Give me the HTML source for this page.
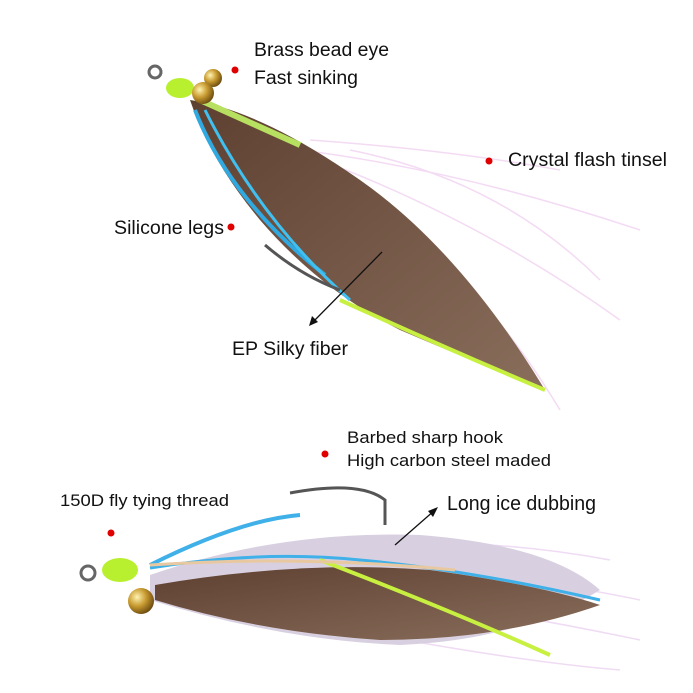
<!DOCTYPE html>
<html><head><meta charset="utf-8"><style>
html,body{margin:0;padding:0;background:#fff}
svg{display:block}
text{font-family:"Liberation Sans",sans-serif;fill:#111}
</style></head><body>
<svg width="693" height="693" viewBox="0 0 693 693" xmlns="http://www.w3.org/2000/svg">
<defs>
<linearGradient id="br" x1="0" y1="0" x2="1" y2="1"><stop offset="0" stop-color="#5e4030"/><stop offset="1" stop-color="#8a6e5c"/></linearGradient>
<radialGradient id="gold" cx="0.35" cy="0.35" r="0.7"><stop offset="0" stop-color="#fff3b0"/><stop offset="0.5" stop-color="#c89a30"/><stop offset="1" stop-color="#6a4a10"/></radialGradient>
</defs>
<g opacity="0.5" stroke="#e8b8e8" stroke-width="1.5" fill="none">
<path d="M300 150 Q460 170 640 230"/><path d="M320 160 Q480 220 620 320"/><path d="M330 170 Q470 260 560 410"/><path d="M350 150 Q500 180 600 280"/><path d="M310 140 Q450 150 560 170"/>
</g>
<path d="M190 100 Q260 110 360 180 Q460 250 545 390 Q470 360 400 330 Q320 290 260 220 Q210 160 190 100Z" fill="url(#br)"/>
<path d="M200 100 L300 145" stroke="#b8e060" stroke-width="6"/>
<path d="M195 110 Q230 200 325 275" stroke="#30a8e0" stroke-width="4" fill="none"/>
<path d="M205 110 Q260 220 350 300" stroke="#40c0f0" stroke-width="3" fill="none"/>
<path d="M340 300 Q450 350 545 390" stroke="#c8f040" stroke-width="4" fill="none"/>
<path d="M265 245 Q300 275 340 290" stroke="#555" stroke-width="3" fill="none"/>
<circle cx="155" cy="72" r="6" fill="none" stroke="#666" stroke-width="3"/>
<ellipse cx="180" cy="88" rx="14" ry="10" fill="#b8f030"/>
<circle cx="213" cy="78" r="9" fill="url(#gold)"/>
<circle cx="203" cy="93" r="11" fill="url(#gold)"/>
<g opacity="0.5" stroke="#e0b8e8" stroke-width="1.5" fill="none">
<path d="M200 560 Q450 560 640 600"/><path d="M200 570 Q450 600 640 640"/><path d="M250 550 Q450 530 610 560"/><path d="M300 620 Q500 660 620 670"/>
</g>
<path d="M150 575 Q280 530 420 535 Q550 545 600 590 Q520 640 400 645 Q280 640 150 600Z" fill="#d8d0e0"/>
<path d="M155 585 Q300 560 430 570 Q540 585 600 605 Q500 640 380 640 Q260 632 155 600Z" fill="url(#br)"/>
<path d="M150 565 Q240 520 300 515" stroke="#40b0e8" stroke-width="4" fill="none"/>
<path d="M150 568 Q260 550 360 560 Q470 570 600 600" stroke="#40b0e8" stroke-width="3" fill="none"/>
<path d="M320 560 Q450 610 550 655" stroke="#c8f040" stroke-width="4" fill="none"/>
<path d="M150 565 Q300 555 455 570" stroke="#e8c8a0" stroke-width="3" fill="none"/>
<path d="M290 493 Q360 480 385 500 L385 525" stroke="#555" stroke-width="3" fill="none"/>
<circle cx="88" cy="573" r="7" fill="none" stroke="#666" stroke-width="3"/>
<ellipse cx="120" cy="570" rx="18" ry="12" fill="#b8f030"/>
<circle cx="141" cy="601" r="13" fill="url(#gold)"/>
<g fill="#e00000"><circle cx="235" cy="70" r="3.5"/><circle cx="489" cy="161" r="3.5"/><circle cx="231" cy="227" r="3.5"/><circle cx="325" cy="454" r="3.5"/><circle cx="111" cy="533" r="3.5"/></g>
<text x="254" y="56" font-size="19" textLength="135" lengthAdjust="spacingAndGlyphs">Brass bead eye</text>
<text x="254" y="84" font-size="19" textLength="104" lengthAdjust="spacingAndGlyphs">Fast sinking</text>
<text x="508" y="166" font-size="19" textLength="159" lengthAdjust="spacingAndGlyphs">Crystal flash tinsel</text>
<text x="114" y="234" font-size="19" textLength="110" lengthAdjust="spacingAndGlyphs">Silicone legs</text>
<text x="232" y="355" font-size="19" textLength="116" lengthAdjust="spacingAndGlyphs">EP Silky fiber</text>
<text x="347" y="443" font-size="17" textLength="156" lengthAdjust="spacingAndGlyphs">Barbed sharp hook</text>
<text x="347" y="466" font-size="17" textLength="204" lengthAdjust="spacingAndGlyphs">High carbon steel maded</text>
<text x="60" y="506" font-size="17" textLength="169" lengthAdjust="spacingAndGlyphs">150D fly tying thread</text>
<text x="447" y="510" font-size="20" textLength="149" lengthAdjust="spacingAndGlyphs">Long ice dubbing</text>
<path d="M382 252 L312 323" stroke="#111" stroke-width="1.3"/>
<path d="M309 326 L312 316 L318 322Z" fill="#111"/>
<path d="M395 545 L435 510" stroke="#111" stroke-width="1.3"/>
<path d="M438 507 L428 511 L433 517Z" fill="#111"/>
</svg>
</body></html>
